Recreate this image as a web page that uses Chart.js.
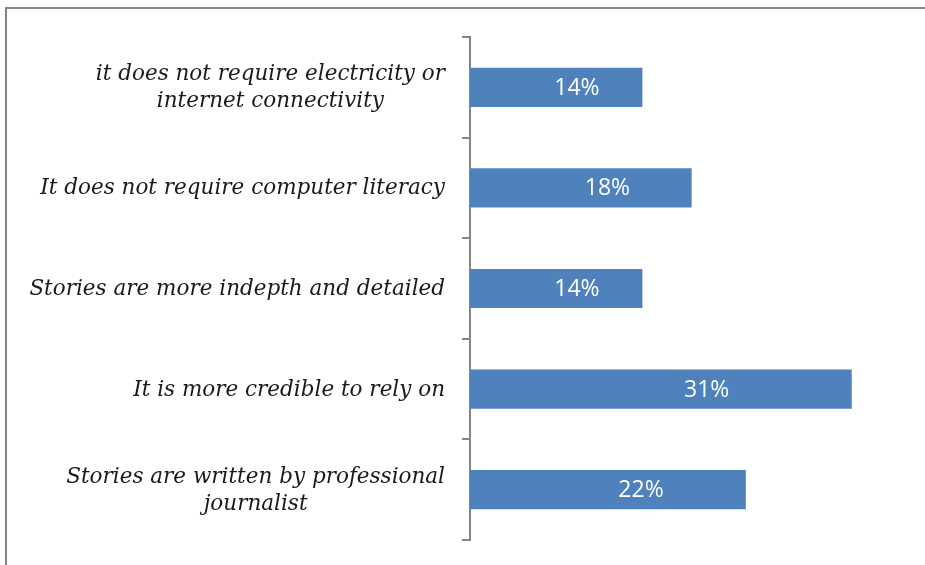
<!DOCTYPE html>
<html>
<head>
<meta charset="utf-8">
<script src="https://cdn.jsdelivr.net/npm/chart.js@4/dist/chart.umd.min.js"></script>
<style>
  html, body { margin: 0; padding: 0; background: #fff; overflow: hidden; }
  #wrap { position: relative; width: 925px; height: 565px; }
  #frame { position: absolute; left: 5px; top: 7px; width: 1000px; height: 1000px;
           border-top: 2px solid #858585; border-left: 2px solid #858585; pointer-events: none; }
  canvas { position: absolute; left: 0; top: 0; }
</style>
</head>
<body>
<div id="wrap">
  <div id="frame"></div>
  <canvas id="c" width="925" height="565"></canvas>
</div>
<script>
// ---- data ----
const categories = [
  ["it does not require electricity or", "internet connectivity"],
  ["It does not require computer literacy"],
  ["Stories are more indepth and detailed"],
  ["It is more credible to rely on"],
  ["Stories are written by professional", "journalist"]
];
const values = [14, 18, 14, 31, 22.4];

const LABEL_FONT = 'italic 21.5px "DejaVu Serif", serif';
const VALUE_FONT = '23px "Open Sans", "Noto Sans", sans-serif';

const categoryLabelsPlugin = {
  id: 'categoryLabels',
  afterDraw(chart) {
    const ctx = chart.ctx;
    const y = chart.scales.y;
    const rightEdge = chart.chartArea.left - 25;
    const lineH = 27;
    ctx.save();
    ctx.font = LABEL_FONT;
    ctx.fillStyle = '#1a1a1a';
    ctx.textAlign = 'center';
    ctx.textBaseline = 'middle';
    chart.data.labels.forEach((lines, i) => {
      const cy = y.getPixelForTick(i) + 1;
      const w = Math.max(...lines.map(l => ctx.measureText(l).width));
      const cx = rightEdge - w / 2;
      const top = cy - (lines.length - 1) * lineH / 2;
      lines.forEach((l, k) => ctx.fillText(l, cx, top + k * lineH));
    });
    ctx.restore();
  }
};

const valueLabelsPlugin = {
  id: 'valueLabels',
  afterDatasetsDraw(chart) {
    const ctx = chart.ctx;
    const meta = chart.getDatasetMeta(0);
    ctx.save();
    ctx.font = VALUE_FONT;
    ctx.fillStyle = '#ffffff';
    ctx.textAlign = 'center';
    ctx.textBaseline = 'middle';
    meta.data.forEach((bar, i) => {
      const v = chart.data.datasets[0].data[i];
      const x = bar.base + 0.62 * (bar.x - bar.base);
      ctx.fillText(Math.round(v) + '%', x, bar.y + 1);
    });
    ctx.restore();
  }
};

new Chart(document.getElementById('c'), {
  type: 'bar',
  data: {
    labels: categories,
    datasets: [{
      data: values,
      backgroundColor: '#4f81bd',
      borderWidth: 0,
      barPercentage: 0.39,
      categoryPercentage: 1.0
    }]
  },
  options: {
    indexAxis: 'y',
    responsive: false,
    animation: false,
    devicePixelRatio: 1,
    layout: { padding: { top: 37, bottom: 25, left: 0, right: 24 } },
    plugins: { legend: { display: false }, tooltip: { enabled: false } },
    scales: {
      x: { display: false, min: 0, max: 35 },
      y: {
        ticks: { display: false },
        grid: { display: true, drawOnChartArea: false, drawTicks: true, tickLength: 8,
                color: '#858585', lineWidth: 2, offset: true },
        border: { display: true, color: '#858585', width: 2 },
        afterFit(scale) { scale.width = 470; }
      }
    }
  },
  plugins: [categoryLabelsPlugin, valueLabelsPlugin]
});
</script>
</body>
</html>
